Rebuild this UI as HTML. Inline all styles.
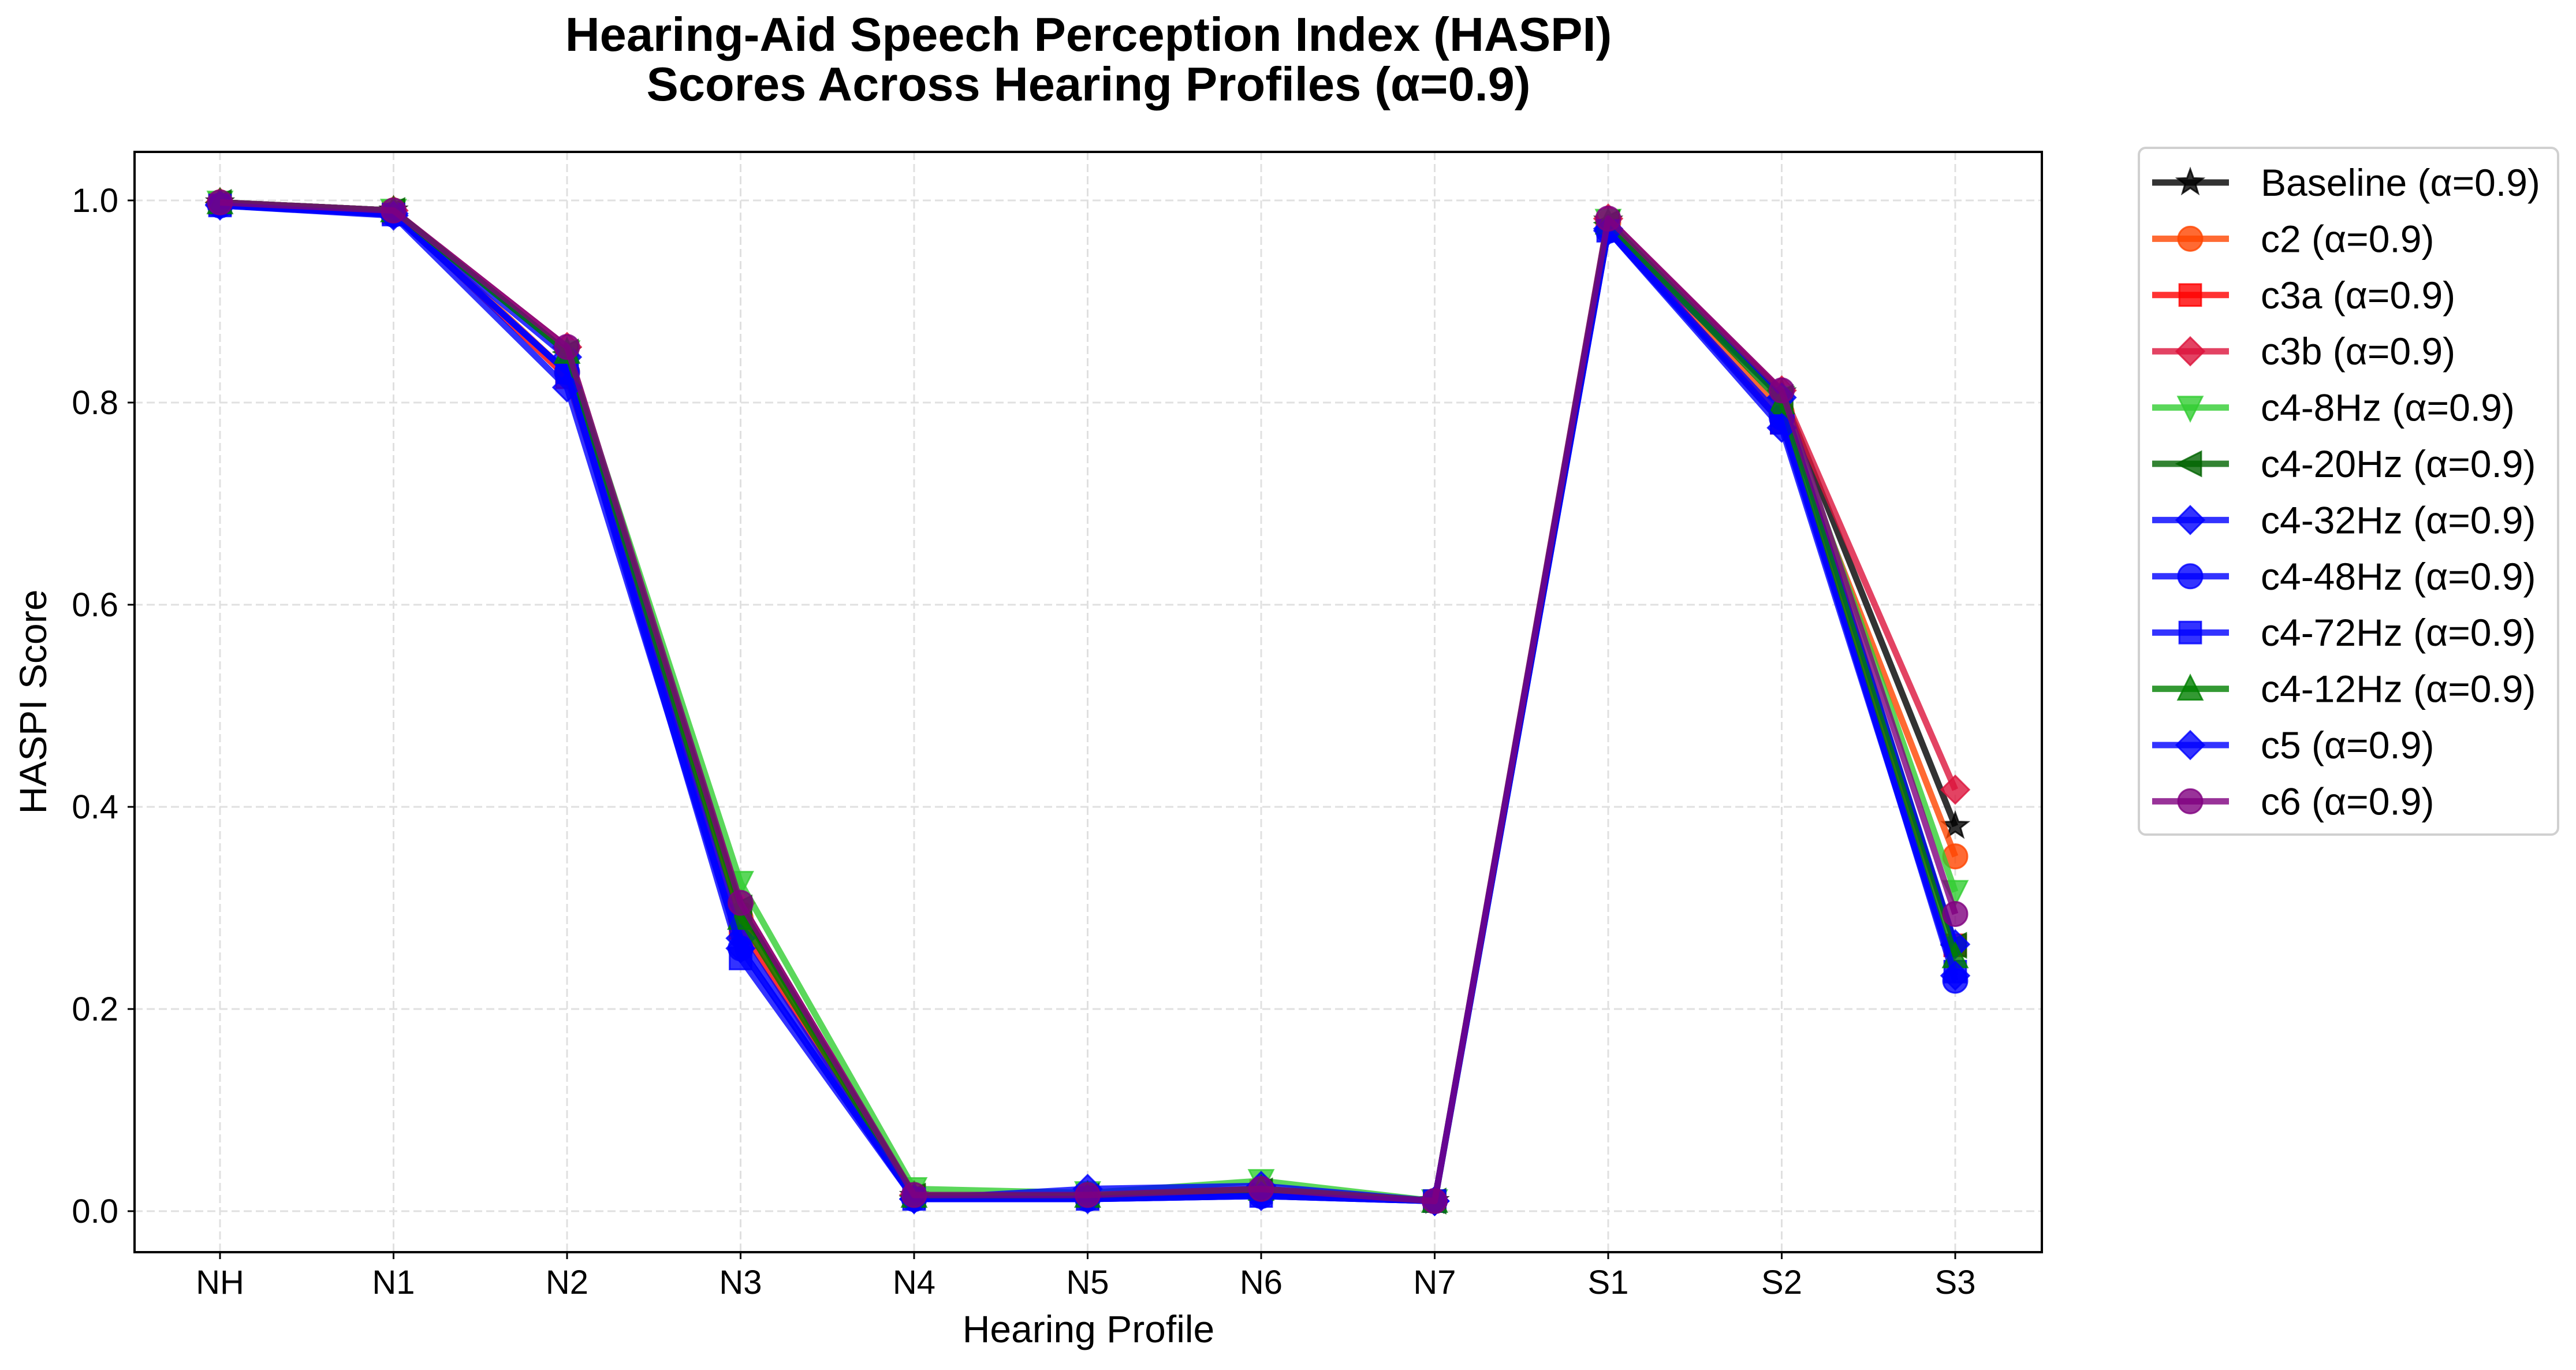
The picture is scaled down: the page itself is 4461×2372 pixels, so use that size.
<!DOCTYPE html>
<html><head><meta charset="utf-8"><style>
html,body{margin:0;padding:0;background:#fff;}
svg{display:block;font-family:"Liberation Sans",Arial,sans-serif;}
</style></head><body>
<svg id="chart" width="4461" height="2372" viewBox="0 0 4461 2372">
<text x="1885" y="88" font-size="83" font-weight="bold" text-anchor="middle">Hearing-Aid Speech Perception Index (HASPI)</text>
<text x="1885" y="174" font-size="83" font-weight="bold" text-anchor="middle">Scores Across Hearing Profiles (α=0.9)</text>
<g id="grid"></g>
<g id="series"></g>
<rect x="233" y="263" width="3303" height="1905" fill="none" stroke="#000" stroke-width="4"/>
<g id="axes"></g>
<text x="1885" y="2324" font-size="66" text-anchor="middle">Hearing Profile</text>
<text x="0" y="0" font-size="66" text-anchor="middle" transform="translate(80,1215) rotate(-90)">HASPI Score</text>
<g id="legend"></g>
</svg>
<script>
const categories = ["NH","N1","N2","N3","N4","N5","N6","N7","S1","S2","S3"];
const yTicks = [0.0,0.2,0.4,0.6,0.8,1.0];
const seriesNames = ["Baseline","c2","c3a","c3b","c4-8Hz","c4-20Hz","c4-32Hz","c4-48Hz","c4-72Hz","c4-12Hz","c5","c6"];
const vBaseline = [0.998,0.990,0.850,0.300,0.015,0.015,0.020,0.010,0.980,0.810,0.381];
const vC2       = [0.998,0.990,0.830,0.290,0.015,0.015,0.020,0.010,0.978,0.790,0.351];
const vC3a      = [0.997,0.988,0.825,0.280,0.015,0.015,0.020,0.010,0.975,0.780,0.263];
const vC3b      = [0.998,0.990,0.855,0.305,0.016,0.016,0.022,0.010,0.982,0.812,0.417];
const vC48Hz    = [0.998,0.990,0.850,0.325,0.022,0.018,0.030,0.010,0.980,0.805,0.316];
const vC420Hz   = [0.998,0.990,0.850,0.300,0.015,0.015,0.020,0.010,0.978,0.805,0.263];
const vC432Hz   = [0.996,0.987,0.845,0.270,0.012,0.022,0.025,0.010,0.972,0.805,0.264];
const vC448Hz   = [0.995,0.986,0.830,0.260,0.012,0.012,0.015,0.010,0.970,0.785,0.228];
const vC472Hz   = [0.995,0.986,0.830,0.250,0.012,0.012,0.015,0.010,0.970,0.780,0.237];
const vC412Hz   = [0.998,0.990,0.850,0.290,0.015,0.015,0.022,0.010,0.978,0.800,0.252];
const vC5       = [0.995,0.985,0.815,0.260,0.012,0.012,0.015,0.010,0.970,0.775,0.233];
const vC6       = [0.998,0.990,0.855,0.305,0.016,0.016,0.022,0.010,0.982,0.812,0.294];
const seriesValues = [vBaseline,vC2,vC3a,vC3b,vC48Hz,vC420Hz,vC432Hz,vC448Hz,vC472Hz,vC412Hz,vC5,vC6];
const colors = ["#000000","#ff4500","#ff0000","#dc143c","#32cd32","#006400","#0000ff","#0000ff","#0000ff","#008000","#0000ff","#800080"];
const markers = ["star","circle","square","diamond","tridown","trileft","diamond","circle","square","triup","diamond","circle"];

const NS="http://www.w3.org/2000/svg";
const L=233,R=3536,T=263,B=2168;
const xS=i=>381+i*(3386-381)/(categories.length-1);
const yS=v=>2097-v*(2097-347);
function mk(tag,attrs,parent){const e=document.createElementNS(NS,tag);for(const k in attrs)e.setAttribute(k,attrs[k]);parent.appendChild(e);return e;}
const grid=document.getElementById('grid'),axes=document.getElementById('axes'),ser=document.getElementById('series'),leg=document.getElementById('legend');

categories.forEach((c,i)=>{
  const g=mk('line',{x1:xS(i),x2:xS(i),y1:T,y2:B,stroke:'#e0e0e0','stroke-width':3,'stroke-dasharray':'14,7'},grid);
  
  
  const t=mk('line',{x1:xS(i),x2:xS(i),y1:B,y2:B+12,stroke:'#000','stroke-width':3},axes);
  
  
  const tx=mk('text',{x:xS(i),y:B+72,'font-size':58,'text-anchor':'middle'},axes);
  tx.textContent=c;
  
  
});
yTicks.forEach(v=>{
  const g=mk('line',{x1:L,x2:R,y1:yS(v),y2:yS(v),stroke:'#e0e0e0','stroke-width':3,'stroke-dasharray':'14,7'},grid);
  
  
  const t=mk('line',{x1:L-12,x2:L,y1:yS(v),y2:yS(v),stroke:'#000','stroke-width':3},axes);
  
  
  const tx=mk('text',{x:L-28,y:yS(v)+20,'font-size':58,'text-anchor':'end'},axes);
  tx.textContent=v.toFixed(1);
  
  
});

function marker(type,x,y,s,color,parent){
  let e;const h=s/2;
  const common={fill:color,stroke:color,'stroke-width':3,'fill-opacity':0.8,'stroke-opacity':0.8};
  if(type==='circle'){e=mk('circle',Object.assign({cx:x,cy:y,r:h},common),parent);}
  else if(type==='square'){e=mk('rect',Object.assign({x:x-h*0.9,y:y-h*0.9,width:s*0.9,height:s*0.9},common),parent);}
  else{
    let pts;
    if(type==='diamond')pts=[[0,-h*1.15],[h*1.15,0],[0,h*1.15],[-h*1.15,0]];
    else if(type==='tridown')pts=[[-h,-h*0.9],[h,-h*0.9],[0,h*1.1]];
    else if(type==='triup')pts=[[-h,h*0.9],[h,h*0.9],[0,-h*1.1]];
    else if(type==='trileft')pts=[[h*0.9,-h],[h*0.9,h],[-h*1.1,0]];
    else {pts=[];for(let k=0;k<10;k++){const a=-Math.PI/2+k*Math.PI/5;const r=k%2?h*0.45:h*1.1;pts.push([r*Math.cos(a),r*Math.sin(a)]);}}
    e=mk('polygon',Object.assign({points:pts.map(p=>(x+p[0])+','+(y+p[1])).join(' ')},common),parent);
  }
  return e;
}

seriesValues.forEach((vals,si)=>{
  const g=mk('g',{},ser);
  
  
  const pl=mk('polyline',{points:vals.map((v,i)=>xS(i)+','+yS(v)).join(' '),fill:'none',stroke:colors[si],'stroke-width':11,'stroke-opacity':0.8,'stroke-linejoin':'round'},g);
  
  
  vals.forEach((v,i)=>{
    const m=marker(markers[si],xS(i),yS(v),42,colors[si],g);
    
    
  });
});

const lb=mk('rect',{x:3704,y:256,width:726,height:1189,rx:12,fill:'#fff',stroke:'#d0d0d0','stroke-width':4},leg);


seriesNames.forEach((n,si)=>{
  const y=316+si*97.4;
  const g=mk('g',{},leg);
  
  
  mk('line',{x1:3727,x2:3860,y1:y,y2:y,stroke:colors[si],'stroke-width':11,'stroke-opacity':0.8},g);
  marker(markers[si],3793,y,42,colors[si],g);
  const t=mk('text',{x:3915,y:y+23,'font-size':66},g);
  t.textContent=n+' (α=0.9)';
});
</script>
</body></html>
